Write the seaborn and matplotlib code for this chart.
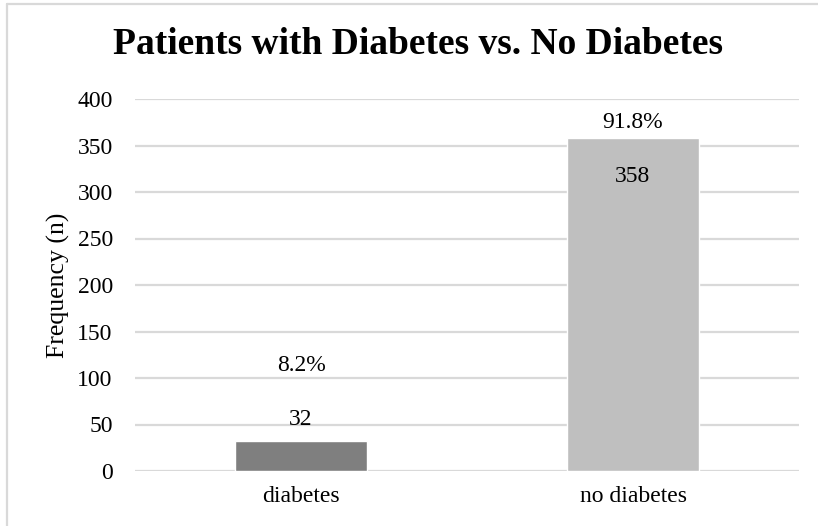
import matplotlib
matplotlib.use("Agg")
import matplotlib.pyplot as plt
from matplotlib.lines import Line2D
import seaborn as sns
import pandas as pd

# Data
categories = ["diabetes", "no diabetes"]
counts = [32, 358]
percent_labels = ["8.2%", "91.8%"]
bar_colors = ["#7f7f7f", "#bfbfbf"]
y_ticks = [0, 50, 100, 150, 200, 250, 300, 350, 400]

sns.set_theme(style="white")
plt.rcParams["font.family"] = ["Liberation Serif", "DejaVu Serif"]

df = pd.DataFrame({"group": categories, "n": counts})

fig = plt.figure(figsize=(8.18, 5.26), dpi=100)
ax = fig.add_axes([135 / 818, 1 - 471 / 526, (799 - 135) / 818, (471 - 99) / 526])

sns.barplot(data=df, x="group", y="n", hue="group", palette=bar_colors,
            width=0.397, legend=False, ax=ax, saturation=1, zorder=3)

ax.set_ylim(0, 400)
ax.set_xlim(-0.5, 1.5)
ax.set_yticks(y_ticks)
ax.set_yticklabels([str(t) for t in y_ticks])
ax.yaxis.grid(True, color="#d9d9d9", linewidth=1.6, zorder=0)
ax.set_axisbelow(True)
for s in ax.spines.values():
    s.set_visible(False)
ax.tick_params(axis="y", length=0, pad=16, labelsize=17, labelcolor="black")
ax.tick_params(axis="x", length=0, pad=11, labelsize=17, labelcolor="black")
ax.set_xlabel("")
ax.set_ylabel("Frequency (n)", fontsize=18.5, color="black", labelpad=5)

# Count and percentage labels
count_offsets = [16.0, -28]
pct_offsets = [54.5, 11]
for i, (n, pct) in enumerate(zip(counts, percent_labels)):
    ax.annotate(str(n), xy=(i, n), xytext=(0, count_offsets[i]),
                textcoords="offset points", ha="center", va="center",
                fontsize=17, color="black", zorder=5)
    ax.annotate(pct, xy=(i, n), xytext=(0, pct_offsets[i]),
                textcoords="offset points", ha="center", va="center",
                fontsize=17, color="black", zorder=5)

fig.text(418 / 818, 1 - 44 / 526, "Patients with Diabetes vs. No Diabetes",
         ha="center", va="center", fontsize=27, fontweight="bold", color="black")

# Chart frame edges
fig.add_artist(Line2D([7 / 818, 1], [1 - 4 / 526, 1 - 4 / 526],
                      transform=fig.transFigure, color="#d9d9d9", linewidth=1.6))
fig.add_artist(Line2D([7 / 818, 7 / 818], [0, 1 - 4 / 526],
                      transform=fig.transFigure, color="#d9d9d9", linewidth=1.6))

fig.savefig("out.png", dpi=100)
